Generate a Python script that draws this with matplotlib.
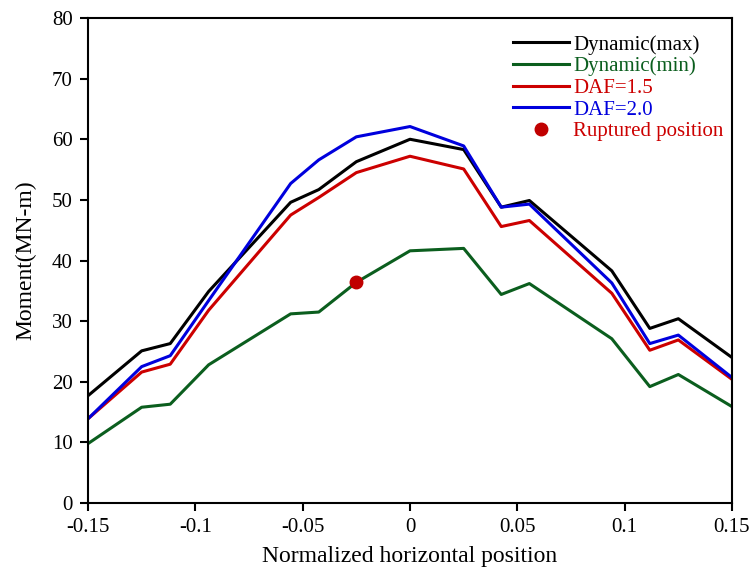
import matplotlib
matplotlib.use("Agg")
import matplotlib.pyplot as plt
from matplotlib.ticker import FixedLocator, FixedFormatter

plt.rcParams['font.family'] = ['Liberation Serif', 'DejaVu Serif']
plt.rcParams['axes.unicode_minus'] = False

# positions along the span (normalized)
x = [-0.15, -0.125, -0.1117, -0.0938, -0.0556, -0.0425, -0.025, 0.0,
     0.025, 0.0425, 0.0556, 0.094, 0.1117, 0.125, 0.15]

dyn_max = [17.7, 25.1, 26.3, 34.9, 49.6, 51.7, 56.3, 60.0,
           58.3, 48.8, 49.9, 38.3, 28.8, 30.4, 24.0]
dyn_min = [9.8, 15.8, 16.3, 22.8, 31.2, 31.5, 36.4, 41.6,
           42.0, 34.4, 36.2, 27.1, 19.2, 21.2, 15.9]
daf15 = [13.9, 21.6, 22.9, 31.8, 47.5, 50.4, 54.5, 57.2,
         55.1, 45.6, 46.6, 34.6, 25.2, 26.9, 20.4]
daf20 = [13.9, 22.5, 24.3, 33.4, 52.7, 56.6, 60.4, 62.1,
         58.9, 48.8, 49.3, 36.3, 26.3, 27.7, 20.7]

rupture_x = [-0.025]
rupture_y = [36.4]

xticks = [-0.15, -0.1, -0.05, 0, 0.05, 0.1, 0.15]
xtick_labels = ['-0.15', '-0.1', '-0.05', '0', '0.05', '0.1', '0.15']

fig = plt.figure(figsize=(7.51, 5.77), dpi=100)
ax = fig.add_axes([0.1172, 0.1282, 0.8575, 0.8406])

ax.plot(x, dyn_max, color='black', lw=2.2, label='Dynamic(max)')
ax.plot(x, dyn_min, color='#0b5e1e', lw=2.2, label='Dynamic(min)')
ax.plot(x, daf15, color='#cc0000', lw=2.2, label='DAF=1.5')
ax.plot(x, daf20, color='#0000dd', lw=2.2, label='DAF=2.0')
ax.plot(rupture_x, rupture_y, 'o', color='#c00000', ms=9, ls='none',
        label='Ruptured position')

ax.set_xlim(-0.15, 0.15)
ax.set_ylim(0, 80)
ax.xaxis.set_major_locator(FixedLocator(xticks))
ax.xaxis.set_major_formatter(FixedFormatter(xtick_labels))
ax.set_yticks(range(0, 81, 10))
ax.tick_params(direction='out', length=6, width=1.5, labelsize=15, pad=5)
for s in ax.spines.values():
    s.set_linewidth(1.5)

ax.set_xlabel('Normalized horizontal position', fontsize=17, labelpad=6)
ax.set_ylabel('Moment(MN-m)', fontsize=17, labelpad=11)

leg = ax.legend(loc='upper right', frameon=False, fontsize=15,
                handlelength=2.7, handletextpad=0.2, labelspacing=0.1,
                borderaxespad=0.2, bbox_to_anchor=(1.006, 0.991))
for text, line in zip(leg.get_texts(), leg.get_lines()):
    text.set_color(line.get_color())
leg.get_texts()[4].set_color('#cc0000')

fig.savefig('out.png', dpi=100)
